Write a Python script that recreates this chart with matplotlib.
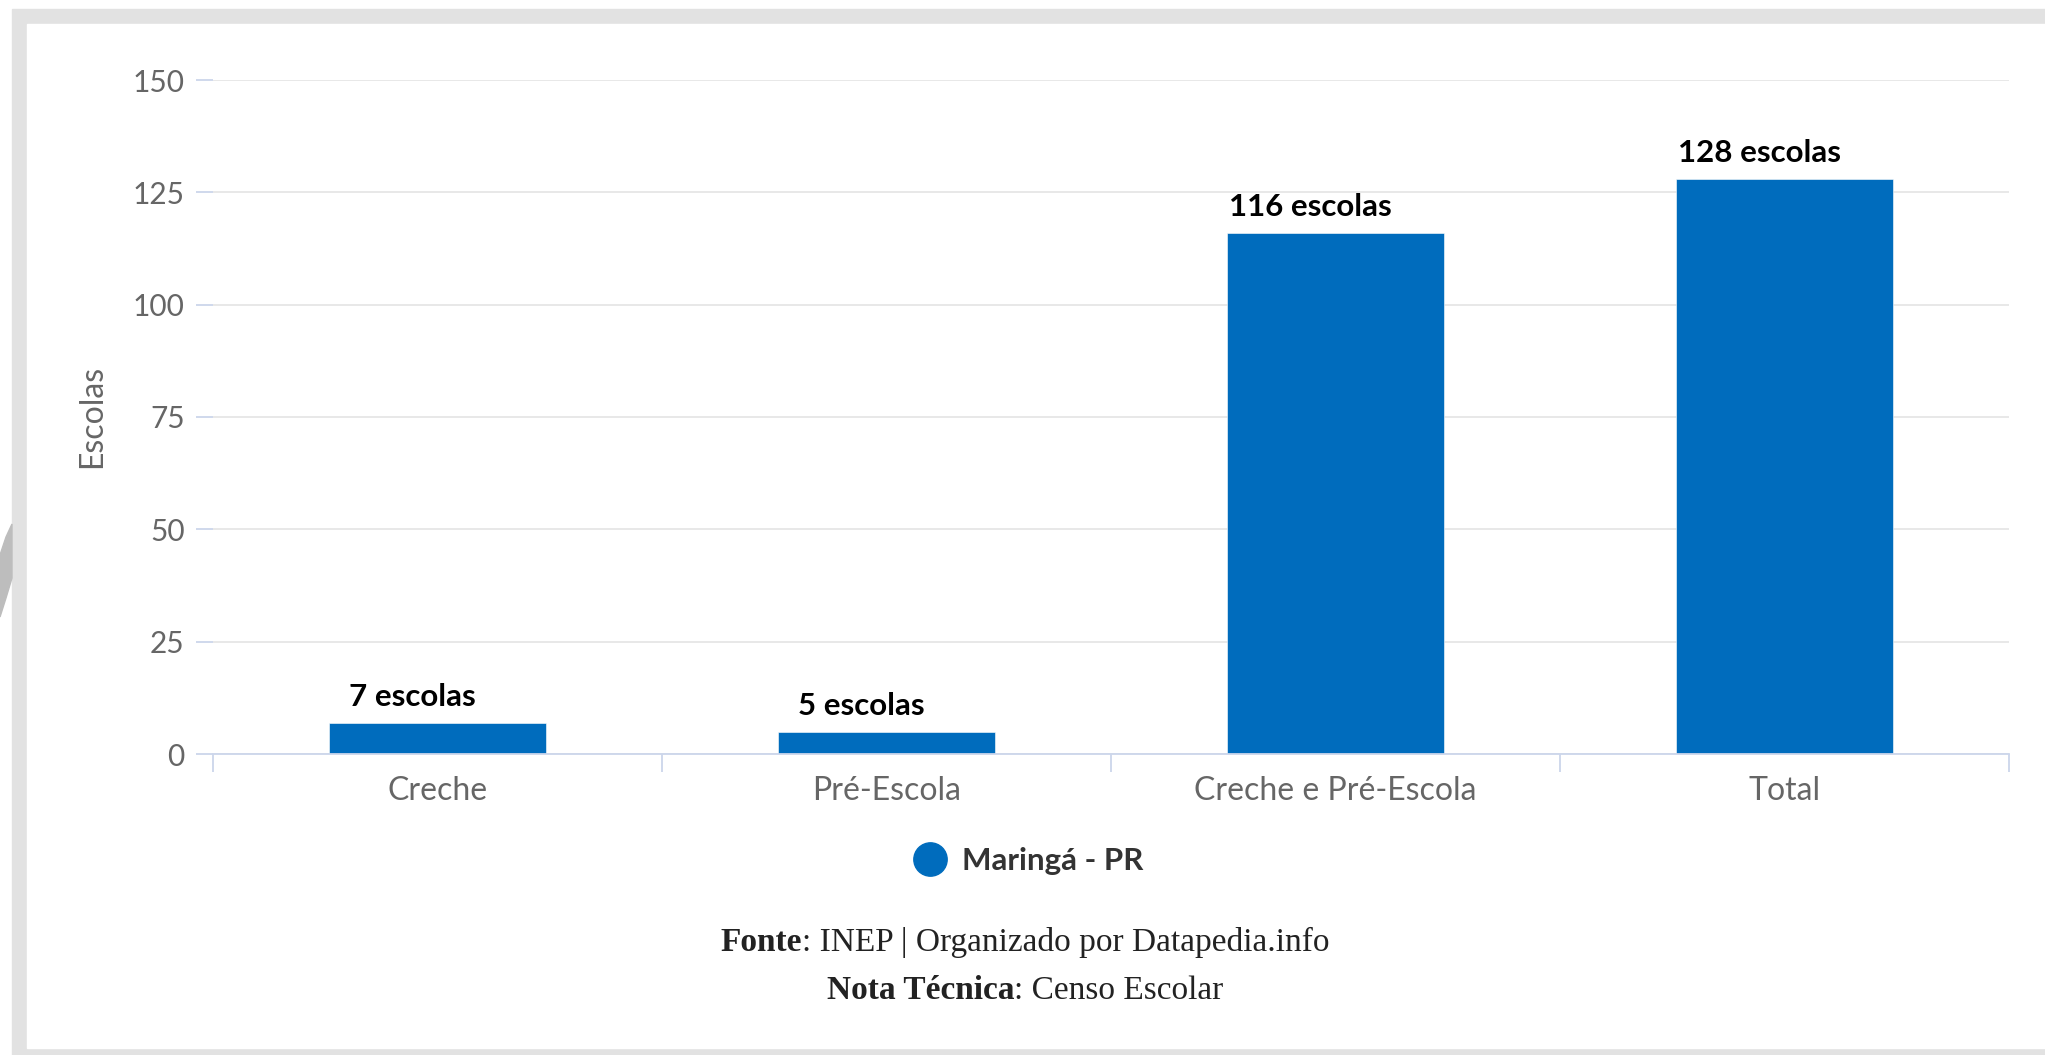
import matplotlib
matplotlib.use('Agg')
import matplotlib.pyplot as plt
from matplotlib.patches import Rectangle, Polygon
from matplotlib.lines import Line2D

# ---- data ----
categories = ['Creche', 'Pré-Escola', 'Creche e Pré-Escola', 'Total']
values = [7, 5, 116, 128]
y_ticks = [0, 25, 50, 75, 100, 125, 150]
series_name = 'Maringá - PR'
y_label = 'Escolas'
label_suffix = ' escolas'
footer1 = [('Fonte', 'bold'), (': INEP | Organizado por Datapedia.info', 'normal')]
footer2 = [('Nota Técnica', 'bold'), (': Censo Escolar', 'normal')]

SANS = 'Lato'
SERIF = 'Liberation Serif'
BAR = '#006cbd'
W, H = 2045, 1055

fig = plt.figure(figsize=(W / 100, H / 100), dpi=100)
fig.patch.set_facecolor('white')


def fx(x):
    return x / W


def fy(y):
    return 1 - y / H


# frame
fig.patches.append(Rectangle((fx(12), 0), (W - 12) / W, (H - 9) / H,
                             transform=fig.transFigure, color='#e2e2e2', zorder=-2))
fig.patches.append(Rectangle((fx(27), fy(1048)), (W - 27) / W, (1048 - 24) / H,
                             transform=fig.transFigure, color='white', zorder=-1))
fig.patches.append(Polygon([(fx(12), fy(524)), (fx(6), fy(537)), (fx(0), fy(555)),
                            (fx(0), fy(617)), (fx(6), fy(598)), (fx(12), fy(578))],
                           closed=True, transform=fig.transFigure, color='#bdbdbd', zorder=-1))

ax = fig.add_axes([fx(213), fy(754), (2009 - 213) / W, (754 - 80) / H])
ax.set_zorder(2)
ax.set_facecolor('none')
x = list(range(len(categories)))
ax.bar(x, values, width=0.483, color=BAR, edgecolor='white', linewidth=0.4, zorder=3)
ax.set_xlim(-0.5, len(categories) - 0.5)
ax.set_ylim(0, 150)
ax.set_yticks(y_ticks)
ax.set_yticklabels([str(t) for t in y_ticks], fontsize=21.5, color='#666666', family=SANS)
ax.tick_params(axis='y', length=12, width=1.3, color='#ccd6eb', pad=8.5)
ax.yaxis.grid(True, color='#e6e6e6', linewidth=1.3, zorder=0)
ax.set_axisbelow(True)

ax.set_xticks(x)
ax.set_xticklabels(categories, fontsize=23, color='#666666', family=SANS)
ax.tick_params(axis='x', which='major', length=0, pad=16)
ax.set_xticks([i - 0.5 for i in range(len(categories) + 1)], minor=True)
ax.tick_params(axis='x', which='minor', length=13, width=1.3, color='#ccd6eb')

for s in ['top', 'right', 'left']:
    ax.spines[s].set_visible(False)
ax.spines['bottom'].set_color('#ccd6eb')
ax.spines['bottom'].set_linewidth(1.3)
ax.spines['bottom'].set_zorder(4)

for xi, v in zip(x, values):
    ax.annotate(f'{v}{label_suffix}', xy=(xi, v), xytext=(-18, 12), textcoords='offset points',
                ha='center', va='baseline', fontsize=22.5, fontweight='bold', color='black',
                family=SANS, zorder=5)

fig.text(fx(92), fy(416), y_label, rotation=90, ha='center', va='center',
         fontsize=23, color='#666666', family=SANS)

handle = Line2D([], [], marker='o', linestyle='', color=BAR, markersize=24)
fig.legend(handles=[handle], labels=[series_name], loc='center',
           bbox_to_anchor=(fx(1021), fy(861)), frameon=False,
           prop=dict(family=SANS, weight='bold', size=22.5), labelcolor='#333333',
           handletextpad=0.0, borderpad=0)

# footer (mixed bold / regular, centered)
renderer = fig.canvas.get_renderer()


def footer_line(parts, ybase, size):
    texts = []
    for txt, wt in parts:
        t = fig.text(0, fy(ybase), txt, ha='left', va='baseline', fontsize=size,
                     fontweight=wt, family=SERIF, color='#222222')
        texts.append(t)
    widths = [t.get_window_extent(renderer=renderer).width for t in texts]
    total = sum(widths)
    start = 1025 - total / 2
    for t, w in zip(texts, widths):
        t.set_x(fx(start))
        start += w


footer_line(footer1, 951, 24)
footer_line(footer2, 999, 24)

fig.savefig('out.png', dpi=100, facecolor='white')
